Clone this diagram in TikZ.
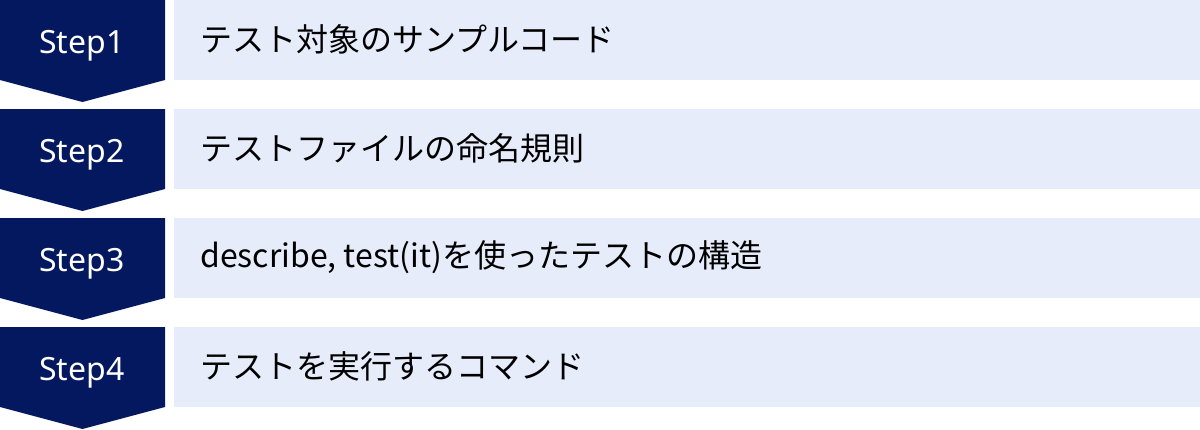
\documentclass[tikz,border=0pt]{standalone}
\usepackage{fontspec}
\setmainfont{Noto Sans CJK JP}
\newfontfamily\steptext{Noto Sans}
\definecolor{navy}{RGB}{4,24,96}
\definecolor{pale}{RGB}{230,236,250}
\tikzset{
  stepshape/.style={fill=navy, draw=none},
  barshape/.style={fill=pale, draw=none},
  steplabel/.style={text=white, font=\steptext\fontsize{32}{36}\selectfont, inner sep=0pt, anchor=base},
  barlabel/.style={text=black, font=\fontsize{32}{38}\selectfont, inner sep=0pt, anchor=west}
}
\begin{document}
\begin{tikzpicture}[x=1pt,y=-1pt]
\useasboundingbox (0,0) rectangle (1200,429);
\foreach \i/\t [count=\n from 0] in {1/テスト対象のサンプルコード, 2/テストファイルの命名規則, 3/{describe, test(it)を使ったテストの構造}, 4/テストを実行するコマンド}{
  \pgfmathsetmacro{\yy}{109*\n}
  \fill[stepshape] (0,\yy) -- (165,\yy) -- (165,\yy+80) -- (82.5,\yy+102) -- (0,\yy+80) -- cycle;
  \fill[barshape] (174,\yy) rectangle (1200,\yy+80);
  \node[steplabel] (s\i) at (82,\yy+53) {Step\i};
  \node[barlabel] (t\i) at (200,\yy+39.5) {\t};
}
\end{tikzpicture}
\end{document}
